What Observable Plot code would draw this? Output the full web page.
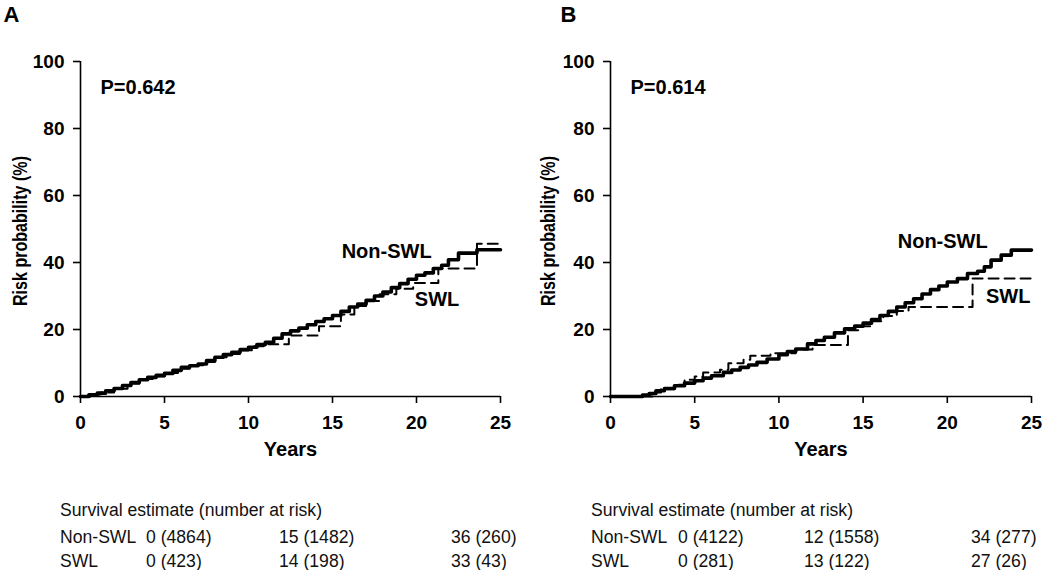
<!DOCTYPE html>
<html><head><meta charset="utf-8">
<script src="https://cdn.jsdelivr.net/npm/d3@7"></script>
<script src="https://cdn.jsdelivr.net/npm/@observablehq/plot@0.6"></script>
<style>
body{margin:0;background:#fff;width:1050px;height:570px;overflow:hidden;position:relative;font-family:"Liberation Sans",Arial,sans-serif;}
#charts{display:flex;position:absolute;left:0;top:0;}
.cell{position:absolute;font-size:17.6px;color:#111;white-space:nowrap;line-height:20px;transform:translateY(-50%);}
</style></head><body>
<div id="charts"></div>
<div id="tables"></div>
<script>
// ---------- data ----------
const xTicks = [0, 5, 10, 15, 20, 25];
const yTicks = [0, 20, 40, 60, 80, 100];

// Panel A
const pA = "P=0.642";
const nonSwlA_t = [0,0.5,1,1.5,2,2.5,3,3.5,4,4.5,5,5.5,6,6.5,7,7.5,8,8.5,9,9.5,10,10.5,11,11.5,12,12.5,13,13.5,14,14.5,15,15.5,16,16.5,17,17.5,18,18.5,19,19.5,20,20.5,21,21.5,21.9,22.5,23.6,25];
const nonSwlA_r = [0,0.5,1.0,1.7,2.4,3.3,4.2,5.0,5.7,6.3,6.9,7.8,8.7,9.2,9.7,10.7,11.7,12.5,13.2,14.0,14.7,15.5,16.2,17.4,18.7,19.6,20.4,21.4,22.4,23.2,24.2,25.4,26.7,27.6,28.7,30.0,31.2,32.5,33.7,35.0,36.2,36.9,38.2,39.2,40.8,42.8,43.8,43.8];
const swlA_t = [0,0.6,1.2,2,2.8,3.5,4.3,5,5.8,6.5,7.3,8,8.7,9.5,10.2,10.9,12.4,14.2,15.5,16.3,17,17.8,18.8,19.8,21.3,23.6,25];
const swlA_r = [0,0.6,1.2,2.3,3.8,5.2,6.0,7.0,8.3,9.3,10.3,11.7,12.7,13.8,15.0,15.6,18.2,21.0,24.5,27.0,28.5,30.5,32.2,33.9,38.2,45.6,45.6];

// Panel B
const pB = "P=0.614";
const nonSwlB_t = [0,1.9,2.3,2.7,3.2,3.8,4.4,5,5.5,6,6.7,7.2,7.7,8.2,8.7,9.3,10,10.5,11,11.7,12.2,12.7,13.3,13.9,14.5,15,15.5,16,16.5,17,17.5,18,18.5,19,19.5,20,20.6,21.2,21.8,22.2,22.6,23.2,23.8,25];
const nonSwlB_r = [0,0.4,0.9,1.7,2.4,3.2,4.0,4.7,5.5,6.2,7.2,7.9,8.7,9.4,10.2,11.2,12.5,13.4,14.2,15.7,16.7,17.7,19.0,20.2,21.0,21.9,23.0,24.2,25.4,26.7,28.0,29.2,30.6,31.9,33.0,34.2,35.2,36.7,37.4,38.7,40.7,42.2,43.7,43.7];
const swlB_t = [0,2.3,2.6,3.0,3.8,4.4,5.0,5.5,6.5,7.0,7.9,8.3,9.5,11.0,12.0,14.1,14.8,15.5,16.2,17.0,17.7,21.5,25];
const swlB_r = [0,0,1.2,2.2,3.5,5.0,6.0,7.2,8.0,9.9,11.0,12.2,12.9,14.0,15.4,19.8,21.0,22.5,24.0,25.5,26.7,35.2,35.2];

// Risk tables
const tableTitle = "Survival estimate (number at risk)";
const groups = ["Non-SWL", "SWL"];
const riskA = [["0 (4864)", "15 (1482)", "36 (260)"], ["0 (423)", "14 (198)", "33 (43)"]];
const riskB = [["0 (4122)", "12 (1558)", "34 (277)"], ["0 (281)", "13 (122)", "27 (26)"]];

// ---------- build ----------
const yTitle = "Risk probability (%)";
const zip = (t, r) => t.map((d, i) => ({t: d, r: r[i]}));

function panel(o) {
  const svg = Plot.plot({
    width: 525, height: 470,
    marginTop: 61, marginBottom: 74, marginLeft: o.ml, marginRight: o.mr,
    x: {domain: [0, 25]},
    y: {domain: [0, 100]},
    style: {fontFamily: "'Liberation Sans', Arial, sans-serif", fontSize: "19px", fontWeight: "bold", color: "#000", background: "#fff", overflow: "visible"},
    marks: [
      Plot.axisX({ticks: xTicks, tickSize: 7, tickPadding: 12, strokeWidth: 1.6, label: null, fontSize: 19}),
      Plot.axisY({ticks: yTicks, tickSize: 7, tickPadding: 9, strokeWidth: 1.6, label: null, fontSize: 19}),
      Plot.ruleX([0], {strokeWidth: 1.6}),
      Plot.ruleY([0], {strokeWidth: 1.6}),
      Plot.line(zip(o.swlT, o.swlR), {x: "t", y: "r", curve: "step-after", stroke: "#000", strokeWidth: 2, strokeDasharray: "10,6"}),
      Plot.line(zip(o.nonT, o.nonR), {x: "t", y: "r", curve: "step-after", stroke: "#000", strokeWidth: 3.6}),
      Plot.text([o.p], {frameAnchor: "top-left", dx: 20, dy: 26, textAnchor: "start", lineAnchor: "middle", fontSize: 20}),
      Plot.text([o.letter], {frameAnchor: "top-left", dx: o.letterDx, dy: -47, textAnchor: "start", lineAnchor: "middle", fontSize: 22}),
      Plot.text([yTitle], {frameAnchor: "left", dx: o.ylabDx, dy: 2, rotate: -90, textAnchor: "middle", lineAnchor: "middle", fontSize: 20}),
      Plot.text(["Years"], {frameAnchor: "bottom", dy: 53, textAnchor: "middle", lineAnchor: "middle", fontSize: 20}),
      Plot.text([groups[0]], {x: o.nonLab[0], y: o.nonLab[1], textAnchor: "end", fontSize: 20}),
      Plot.text([groups[1]], {x: o.swlLab[0], y: o.swlLab[1], textAnchor: "start", fontSize: 20})
    ]
  });
  // the rotated axis title is more compact in the reference
  d3.select(svg).selectAll("text").filter(function() { return this.textContent === yTitle; })
    .attr("textLength", 150).attr("lengthAdjust", "spacingAndGlyphs");
  return svg;
}

const charts = document.getElementById("charts");
charts.append(panel({letter: "A", p: pA, ml: 80, mr: 25, letterDx: -77, ylabDx: -60,
  nonT: nonSwlA_t, nonR: nonSwlA_r, swlT: swlA_t, swlR: swlA_r, nonLab: [20.9, 43.2], swlLab: [19.9, 29]}));
charts.append(panel({letter: "B", p: pB, ml: 85, mr: 19, letterDx: -50, ylabDx: -62,
  nonT: nonSwlB_t, nonR: nonSwlB_r, swlT: swlB_t, swlR: swlB_r, nonLab: [22.4, 46.2], swlLab: [22.3, 29.7]}));

// tables
const tables = document.getElementById("tables");
function cell(txt, left, top) {
  const d = document.createElement("div");
  d.className = "cell"; d.textContent = txt;
  d.style.left = left + "px"; d.style.top = top + "px";
  tables.append(d);
}
function table(x0, cols, risk) {
  cell(tableTitle, x0, 510);
  groups.forEach((g, i) => {
    const top = 537 + i * 24;
    cell(g, x0, top);
    risk[i].forEach((v, j) => cell(v, cols[j], top));
  });
}
table(60, [146, 279, 451], riskA);
table(591, [678, 804, 971], riskB);
</script>
</body></html>
